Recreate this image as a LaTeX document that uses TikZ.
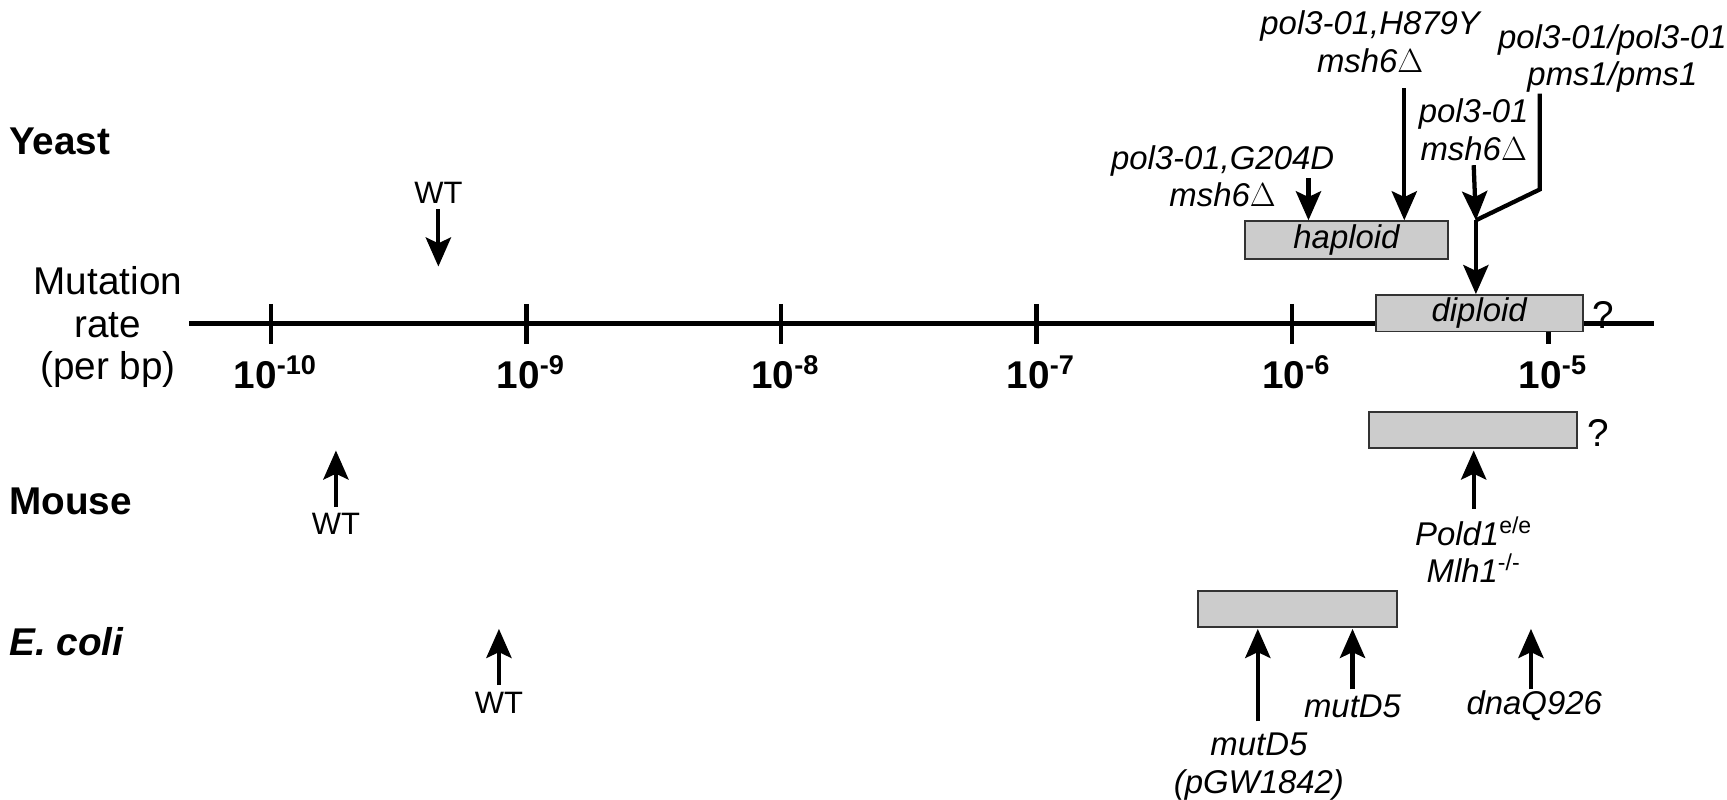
\documentclass[tikz,border=0pt]{standalone}
\usepackage{fontspec}
\setmainfont{Liberation Sans}
\usetikzlibrary{arrows.meta}
\begin{document}
\begin{tikzpicture}[x=0.02cm,y=-0.02cm,
  big/.style={font=\fontsize{20}{22}\selectfont},
  gene/.style={font=\fontsize{17}{19.5}\selectfont\itshape,align=center,inner sep=0pt},
  wt/.style={font=\fontsize{16}{18}\selectfont,inner sep=0pt},
  tick/.style={font=\fontsize{20}{22}\selectfont\bfseries,inner sep=0pt},
  org/.style={font=\fontsize{20}{22}\selectfont\bfseries,anchor=west,inner sep=0pt},
  bar/.style={draw=black!80,fill=black!20,line width=1pt},
  arr/.style={line width=2.2pt,-{Stealth[length=15,width=13,inset=3]}},
  ln/.style={line width=2.2pt}]
\useasboundingbox (0,0) rectangle (1568,726);
% organisms
\node[org] (yeast) at (8,128) {Yeast};
\node[org] (mouse) at (8,455) {Mouse};
\node[org,font=\fontsize{20}{22}\selectfont\bfseries\itshape] (ecoli) at (8,583) {E. coli};
\node[big,align=center,inner sep=0pt] (mr) at (98,297) {Mutation\\rate\\(per bp)};
% axis
\coordinate (a0) at (172,294); \coordinate (a1) at (1502,294);
\draw[line width=2.6pt] (a0) -- (a1);
\foreach \x/\e/\n in {246/-10/t10,478/-9/t9,709/-8/t8,941/-7/t7,1173/-6/t6,1406/-5/t5}{
  \draw[line width=2.4pt] (\x,276) -- (\x,312);
  \node[tick] (\n) at (\x+4,338) {10\textsuperscript{\e}};
}
% yeast
\node[wt] (ywt) at (398,175) {WT};
\coordinate (ywtE) at (398,242);
\draw[arr] (398,190) -- (ywtE);
\node[bar,minimum width=185*0.02cm,minimum height=34*0.02cm,inner sep=0pt] (hap) at (1222.5,218) {};
\node[gene] at (hap) {haploid};
\node[bar,minimum width=188*0.02cm,minimum height=33*0.02cm,inner sep=0pt] (dip) at (1343,284.5) {};
\node[gene] at (dip) {diploid};
\node[big,inner sep=0pt] (q1) at (1456,286) {?};
\node[gene] (g204) at (1110,160) {pol3-01,G204D\\msh6$\Delta$};
\draw[arr] (1188,162) -- (1188,200);
\node[gene] (h879) at (1244,38) {pol3-01,H879Y\\msh6$\Delta$};
\draw[arr] (1275,80) -- (1275,200);
\node[gene] (p301) at (1338,118) {pol3-01\\msh6$\Delta$};
\coordinate (j) at (1340,200);
\draw[arr] (1338,150) -- (j);
\node[gene] (pms) at (1464,53) {pol3-01/pol3-01\\pms1/pms1};
\draw[ln,line join=miter] (1398,85) -- (1398,172) -- (j);
\draw[arr] (j) -- (1340,267);
% mouse
\node[bar,minimum width=189*0.02cm,minimum height=33*0.02cm,inner sep=0pt] (mbox) at (1337.5,390.5) {};
\node[big,inner sep=0pt] (q2) at (1451,393) {?};
\draw[arr] (1338,462) -- (1338,409);
\node[gene] (pold) at (1338,499) {Pold1\textsuperscript{\upshape e/e}\\Mlh1\textsuperscript{\upshape -/-}};
\node[wt] (mwt) at (305,476) {WT};
\draw[arr] (305,460) -- (305,409);
% E. coli
\node[bar,minimum width=180*0.02cm,minimum height=32*0.02cm,inner sep=0pt] (ebox) at (1178,553) {};
\draw[arr] (1142,655) -- (1142,571);
\draw[arr] (1228,626) -- (1228,571);
\draw[arr] (1390,626) -- (1390,571);
\node[gene] (mut1) at (1143,696) {mutD5\\(pGW1842)};
\node[gene] (mut2) at (1228,641) {mutD5};
\node[gene] (dnaq) at (1393,641) {dnaQ926};
\node[wt] (ewt) at (453,638) {WT};
\draw[arr] (453,622) -- (453,571);
\end{tikzpicture}
\end{document}
